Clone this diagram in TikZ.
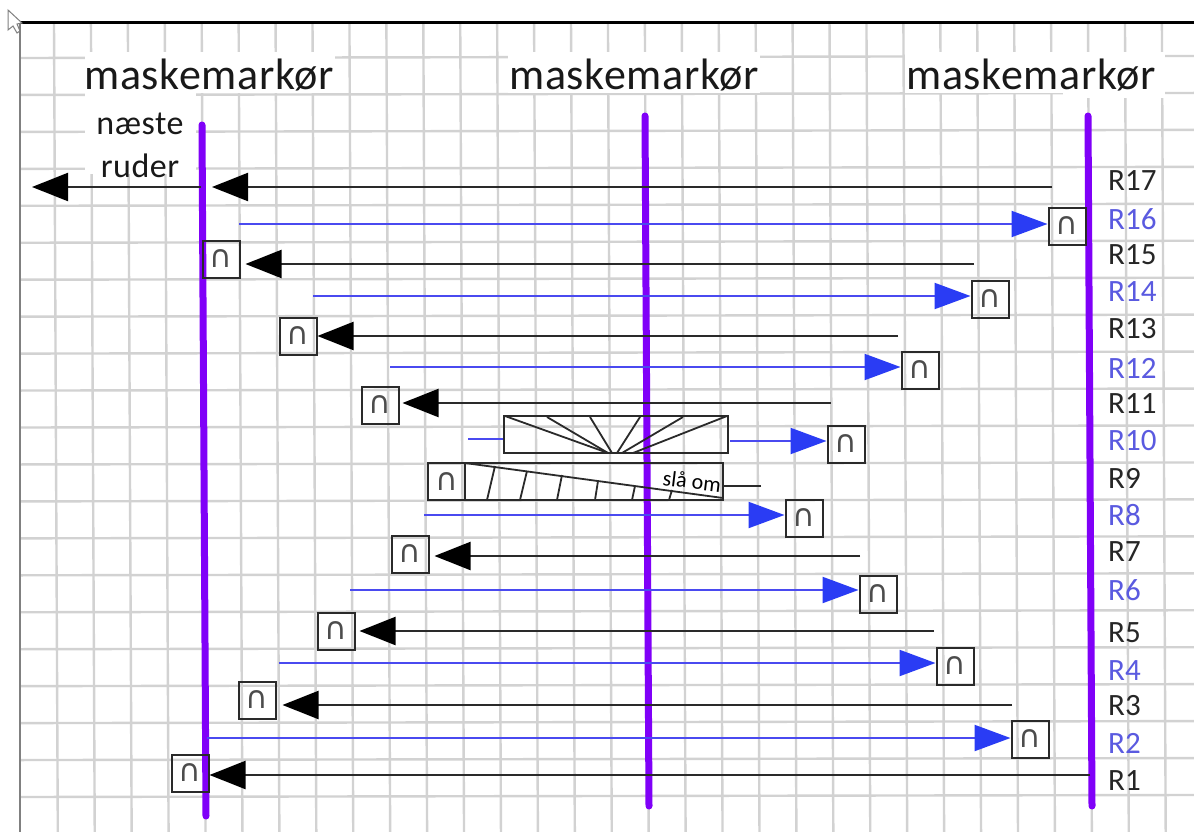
\documentclass[tikz,border=0pt]{standalone}
\usepackage{fontspec}
\setmainfont{Carlito}
\newfontfamily\capfont[LetterSpace=1.5]{Carlito}
\newfontfamily\symfont{DejaVu Sans}
\usetikzlibrary{arrows.meta}
\definecolor{gridc}{HTML}{D2D2D2}
\definecolor{purp}{HTML}{8000F8}
\definecolor{blueln}{HTML}{4A4AF0}
\definecolor{bluehd}{HTML}{2A3CF4}
\definecolor{bluelb}{HTML}{5A5AE0}
\definecolor{darkln}{HTML}{2A2A2A}
\tikzset{
 gridln/.style={gridc,line width=2.4pt},
 marker/.style={purp,line width=7pt,line cap=round},
 ubox/.style={draw=darkln,line width=2pt,minimum width=37pt,minimum height=37pt,inner sep=0pt,text=black!70,font=\symfont\fontsize{31}{31}\selectfont},
 blackarrow/.style={darkln,line width=2.2pt,-{Triangle[length=36pt,width=28pt,color=black]}},
 bluearrow/.style={blueln,line width=2.2pt,-{Triangle[length=36pt,width=26pt,color=bluehd]}},
 title/.style={font=\capfont\fontsize{44}{44}\selectfont,text=black!90,inner sep=0pt},
 note/.style={font=\capfont\fontsize{34}{34}\selectfont,text=black!90,inner sep=0pt},
 rlabel/.style={anchor=west,inner sep=0pt,font=\fontsize{31}{31}\selectfont,text=black!85},
 rblue/.style={rlabel,text=bluelb},
 patch/.style={fill=white,draw=none},
 stair/.style={darkln,line width=1.8pt}
}
\begin{document}
\begin{tikzpicture}[x=1pt,y=-1pt]
\useasboundingbox (0,0) rectangle (1194,832);
\fill[white] (0,0) rectangle (1194,832);
% grid
\foreach \k in {0,...,30}{
  \pgfmathsetmacro\xa{54+36.93*\k}
  \pgfmathsetmacro\xb{\xa+3.8}
  \draw[gridln] (\xa,23) -- (\xb,832);
}
\foreach \k in {0,...,20}{
  \pgfmathsetmacro\ya{58+36.95*\k}
  \pgfmathsetmacro\yb{\ya-2}
  \draw[gridln] (20,\ya) -- (1194,\yb);
}
\draw[gray,line width=2.6pt] (20,23) -- (20,832);
\draw[black,line width=3pt] (20,23) -- (1194,23);
% white patches behind the headings
\fill[patch] (85,52) rectangle (335,93);
\fill[patch] (85,93) rectangle (196,174);
\fill[patch] (508,52) rectangle (760,93);
\fill[patch] (905,52) rectangle (1165,93);
\fill[patch] (1063,93) rectangle (1165,98);
% cursor
\draw[gray,fill=white,line width=1pt] (8,10) -- (8,30) -- (13,26) -- (17,33) -- (20,31) -- (17,24) -- (22,23) -- cycle;
% markers
\coordinate (m1a) at (202,125); \coordinate (m1b) at (206,816);
\coordinate (m2a) at (645,116); \coordinate (m2b) at (649,806);
\coordinate (m3a) at (1088,116); \coordinate (m3b) at (1092,806);
\draw[marker] (m1a) -- (m1b);
\draw[marker] (m2a) -- (m2b);
\draw[marker] (m3a) -- (m3b);
% headings
\node[title] (t1) at (209,75) {maskemarkør};
\node[title] (t2) at (634,75) {maskemarkør};
\node[title] (t3) at (1031,75) {maskemarkør};
\node[note] (n1) at (140,124) {næste};
\node[note] (n2) at (140,166) {ruder};
% R17
\coordinate (s17) at (1052,187); \coordinate (e17) at (212,187);
\draw[blackarrow] (s17) -- (e17);
\coordinate (s17b) at (201,187); \coordinate (e17b) at (32,187);
\draw[blackarrow] (s17b) -- (e17b);
% boxes
\node[ubox] (b16) at (1067,226) {∩};
\node[ubox] (b15) at (221,259) {∩};
\node[ubox] (b14) at (990,299) {∩};
\node[ubox] (b13) at (298,336) {∩};
\node[ubox] (b12) at (920,370) {∩};
\node[ubox] (b11) at (380,405) {∩};
\node[ubox] (b10) at (846,444) {∩};
\node[ubox] (b8) at (804,518) {∩};
\node[ubox] (b7) at (410,554) {∩};
\node[ubox] (b6) at (878,594) {∩};
\node[ubox] (b5) at (336,631) {∩};
\node[ubox] (b4) at (955,666) {∩};
\node[ubox] (b3) at (257,700) {∩};
\node[ubox] (b2) at (1030,739) {∩};
\node[ubox] (b1) at (190,773) {∩};
% row connectors
\coordinate (s16) at (239,224);  \draw[bluearrow] (s16) -- (s16 -| b16.west);
\coordinate (s15) at (974,264);  \draw[blackarrow,shorten >=5pt] (s15) -- (s15 -| b15.east);
\coordinate (s14) at (313,296);  \draw[bluearrow] (s14) -- (s14 -| b14.west);
\coordinate (s13) at (898,336);  \draw[blackarrow] (s13) -- (s13 -| b13.east);
\coordinate (s12) at (390,367);  \draw[bluearrow] (s12) -- (s12 -| b12.west);
\coordinate (s11) at (831,403);  \draw[blackarrow,shorten >=3pt] (s11) -- (s11 -| b11.east);
\coordinate (s8)  at (424,515);  \draw[bluearrow] (s8) -- (s8 -| b8.west);
\coordinate (s7)  at (860,556);  \draw[blackarrow,shorten >=5pt] (s7) -- (s7 -| b7.east);
\coordinate (s6)  at (350,590);  \draw[bluearrow] (s6) -- (s6 -| b6.west);
\coordinate (s5)  at (934,631);  \draw[blackarrow,shorten >=4pt] (s5) -- (s5 -| b5.east);
\coordinate (s4)  at (279,663);  \draw[bluearrow] (s4) -- (s4 -| b4.west);
\coordinate (s3)  at (1012,705); \draw[blackarrow,shorten >=6pt] (s3) -- (s3 -| b3.east);
\coordinate (s2)  at (207,738);  \draw[bluearrow] (s2) -- (s2 -| b2.west);
\coordinate (s1)  at (1090,775); \draw[blackarrow] (s1) -- (s1 -| b1.east);
% R10 fan
\node[draw=darkln,line width=2pt,minimum width=224pt,minimum height=37pt,inner sep=0pt] (r10) at (616,434.5) {};
\draw[stair] (r10.north west)++(2,1) -- (608,453);
\draw[stair] (547,417) -- (608,453);
\draw[stair] (590,417) -- (612,453);
\draw[stair] (640,417) -- (617,453);
\draw[stair] (683,417) -- (622,453);
\draw[stair] (r10.north east)++(-2,1) -- (633,453);
\coordinate (s10a) at (468,439); \draw[blueln,line width=2.2pt] (s10a) -- (s10a -| r10.west);
\coordinate (s10b) at (730,441); \draw[bluearrow] (s10b) -- (s10b -| b10.west);
% R9 turn row
\node[draw=darkln,line width=2pt,minimum width=295pt,minimum height=37pt,inner sep=0pt] (r9) at (575.5,481.5) {};
\node[ubox] (b9) at (446.5,481.5) {∩};
\coordinate (c9a) at (465,463); \coordinate (c9b) at (723,498);
\draw[stair] (c9a) -- (c9b);
\draw[stair] (487,500) -- (495,466);
\draw[stair] (520,500) -- (527,471);
\draw[stair] (557,500) -- (562,475);
\draw[stair] (595,500) -- (598,481);
\draw[stair] (632,500) -- (635,486);
\draw[stair] (669,500) -- (672,490);
\coordinate (s9) at (761,486); \draw[darkln,line width=2pt] (s9) -- (s9 -| r9.east);
\node[rotate=-7,inner sep=0pt,font=\fontsize{22}{22}\selectfont,text=black] (sl) at (692,481) {slå om};
% row labels
\node[rlabel] (r17l) at (1108,181) {R17};
\node[rblue]  (r16l) at (1108,219) {R16};
\node[rlabel] (r15l) at (1108,255) {R15};
\node[rblue]  (r14l) at (1108,292) {R14};
\node[rlabel] (r13l) at (1108,329) {R13};
\node[rblue]  (r12l) at (1108,368) {R12};
\node[rlabel] (r11l) at (1108,404) {R11};
\node[rblue]  (r10l) at (1108,441) {R10};
\node[rlabel] (r9l)  at (1108,478) {R9};
\node[rblue]  (r8l)  at (1108,515) {R8};
\node[rlabel] (r7l)  at (1108,552) {R7};
\node[rblue]  (r6l)  at (1108,590) {R6};
\node[rlabel] (r5l)  at (1108,633) {R5};
\node[rblue]  (r4l)  at (1108,671) {R4};
\node[rlabel] (r3l)  at (1108,706) {R3};
\node[rblue]  (r2l)  at (1108,743) {R2};
\node[rlabel] (r1l)  at (1108,781) {R1};
\end{tikzpicture}
\end{document}
